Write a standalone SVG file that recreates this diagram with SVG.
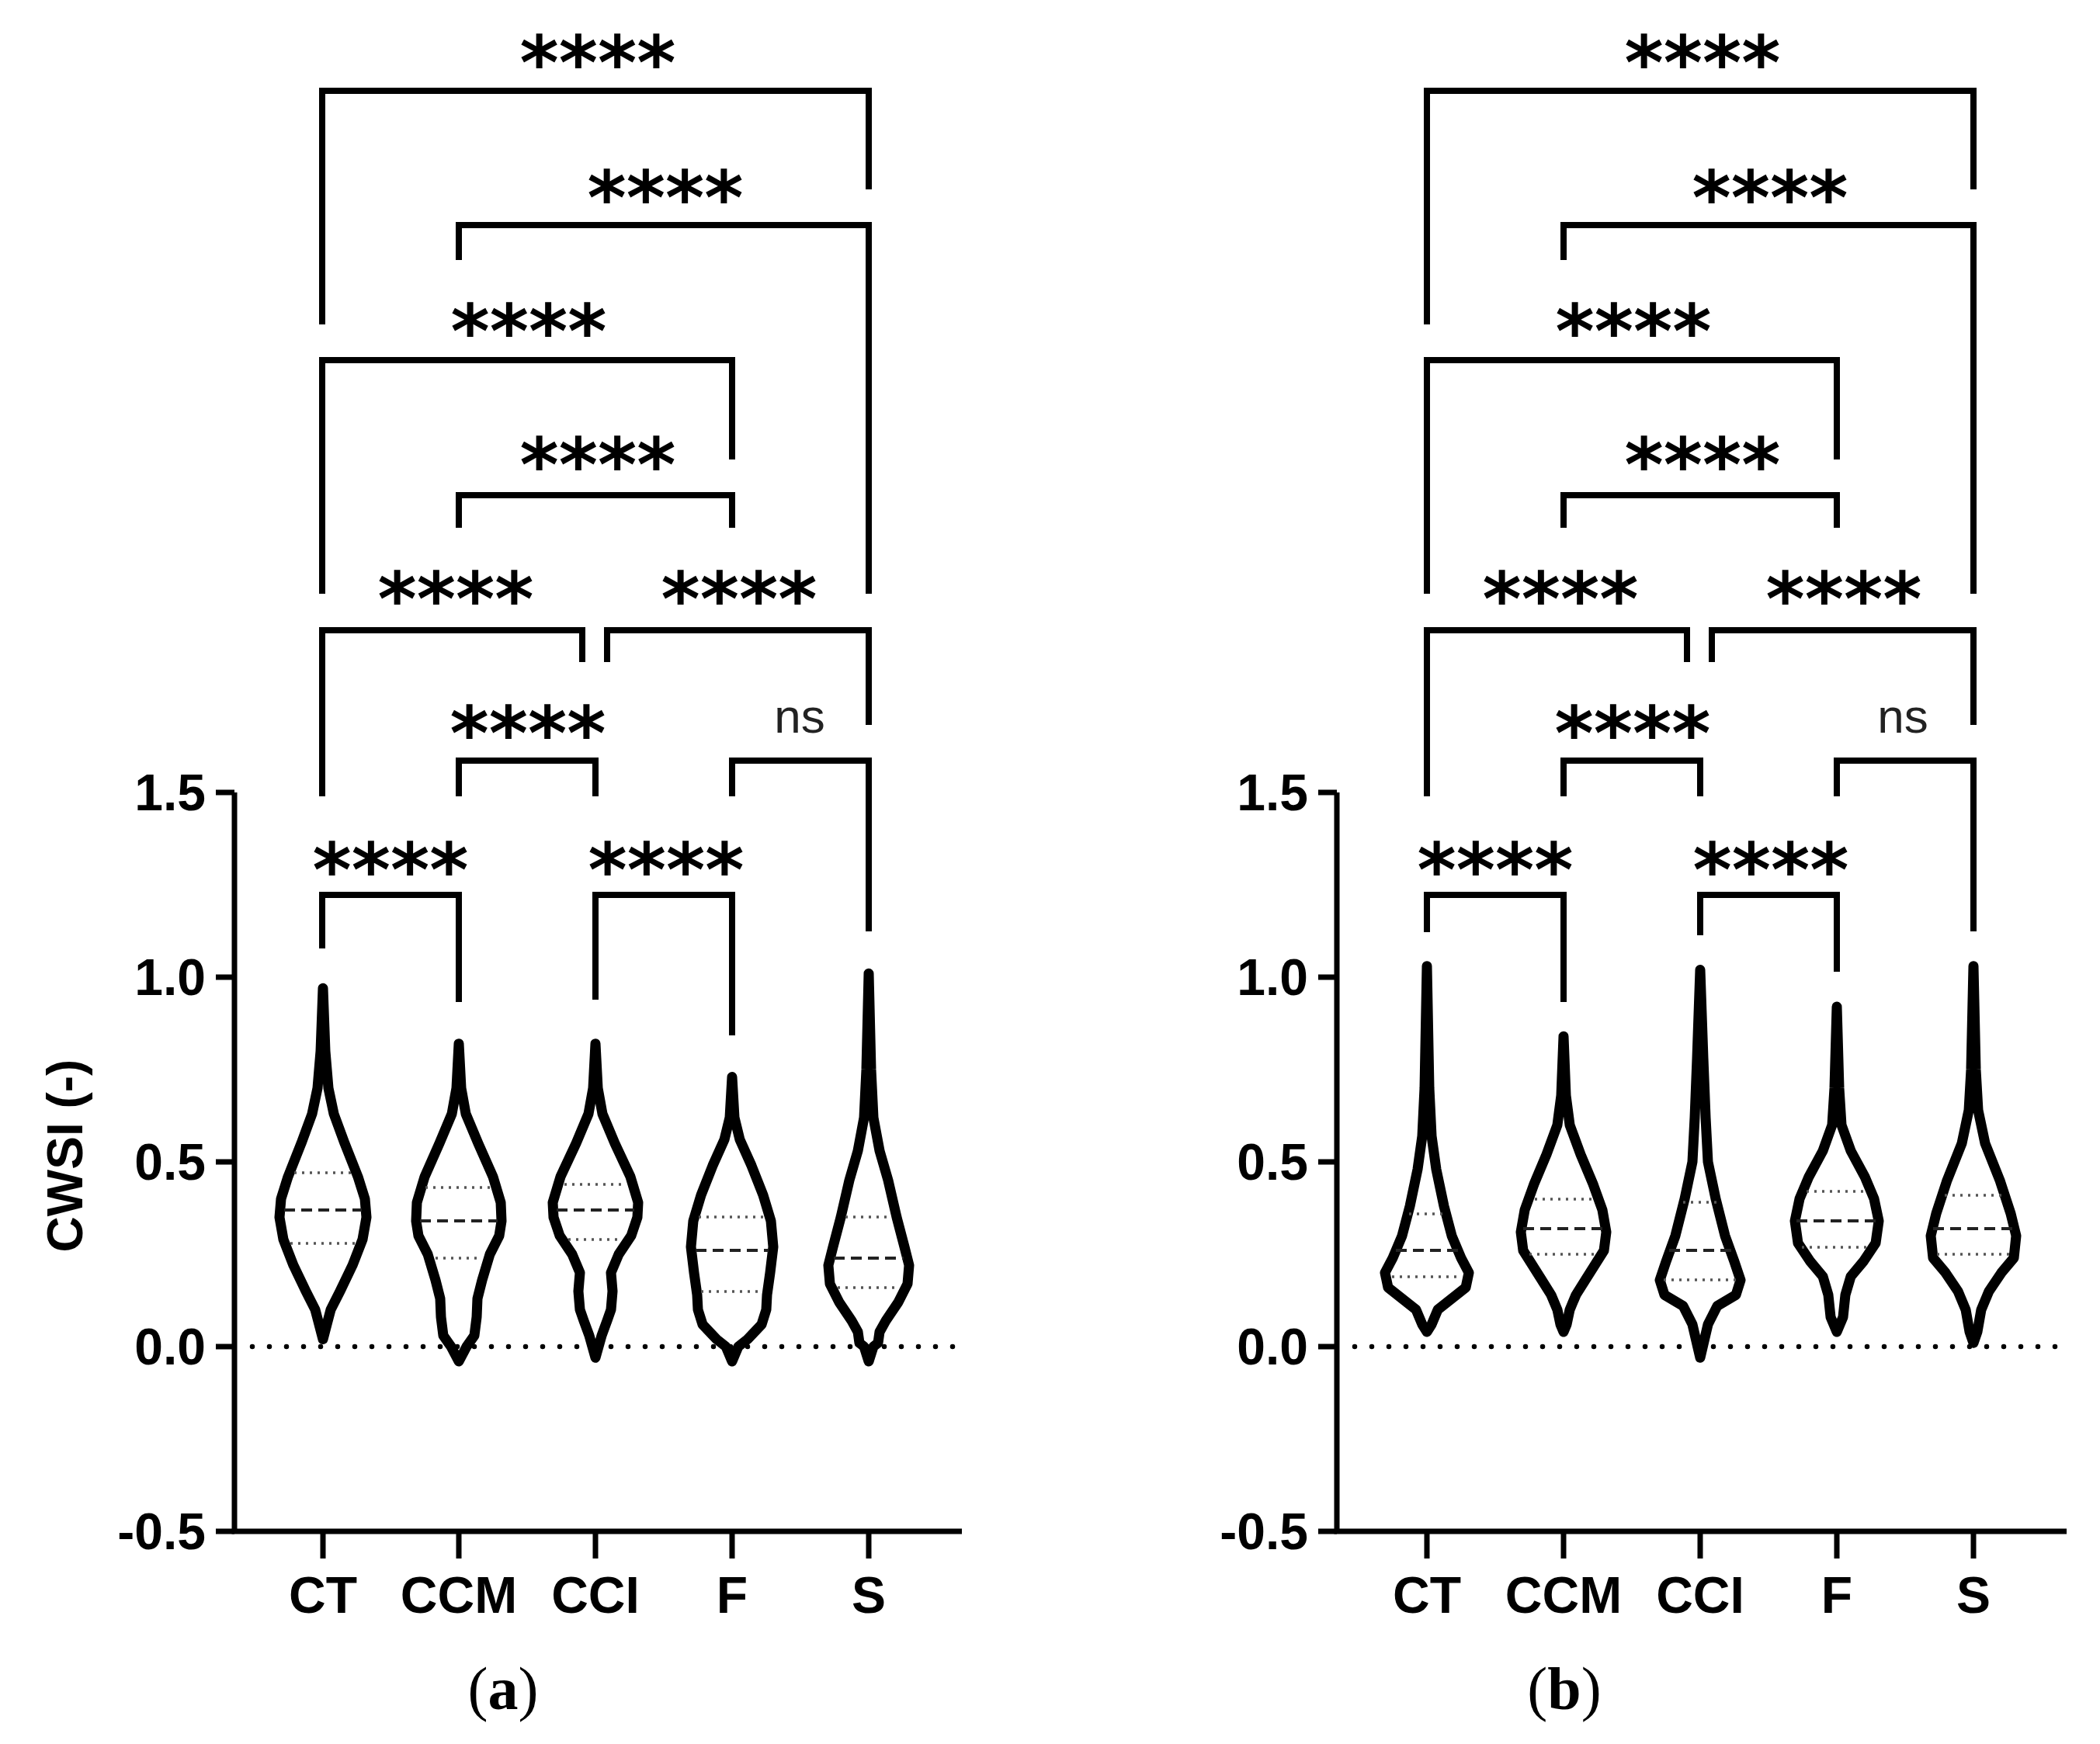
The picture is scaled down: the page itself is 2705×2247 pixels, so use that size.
<svg xmlns="http://www.w3.org/2000/svg" width="2705" height="2247" viewBox="0 0 2705 2247">
<style>
.br{fill:none;stroke:#000;stroke-width:8;stroke-linecap:butt;stroke-linejoin:miter}
.ax{fill:none;stroke:#000;stroke-width:7}
.vi{fill:none;stroke:#000;stroke-width:13;stroke-linejoin:round;vector-effect:non-scaling-stroke}
.med{stroke:#222;stroke-width:4;stroke-dasharray:14 8}
.q{stroke:#555;stroke-width:3.5;stroke-dasharray:3 7}
.zero{stroke:#000;stroke-width:6.5;stroke-linecap:round;stroke-dasharray:0 22}
.st{font-family:"DejaVu Sans",sans-serif;font-size:96px;font-weight:bold;text-anchor:middle}
.ns{font-family:"Liberation Sans",Arial,sans-serif;font-size:62px;text-anchor:middle;fill:#222}
.tk{font-family:"Liberation Sans",Arial,sans-serif;font-size:66px;font-weight:bold;text-anchor:end}
.cat{font-family:"Liberation Sans",Arial,sans-serif;font-size:66px;font-weight:bold;text-anchor:middle}
.cap{font-family:"Liberation Serif","Times New Roman",serif;font-size:78px;text-anchor:middle}
</style>
<rect width="2705" height="2247" fill="#fff"/>

<g id="axes-a">
<path class="ax" d="M302,1021 V1973 H1239"/>
<path class="ax" d="M278,1021 H302 M278,1259 H302 M278,1497 H302 M278,1735 H302 M278,1973 H302"/>
<path class="ax" d="M416,1973 V2008 M591,1973 V2008 M767,1973 V2008 M943,1973 V2008 M1119,1973 V2008"/>
<text class="tk" x="265" y="1044">1.5</text>
<text class="tk" x="265" y="1282">1.0</text>
<text class="tk" x="265" y="1520">0.5</text>
<text class="tk" x="265" y="1758">0.0</text>
<text class="tk" x="265" y="1996">-0.5</text>
<text class="cat" x="416" y="2078">CT</text>
<text class="cat" x="591" y="2078">CCM</text>
<text class="cat" x="767" y="2078">CCI</text>
<text class="cat" x="943" y="2078">F</text>
<text class="cat" x="1119" y="2078">S</text>
<text transform="translate(106,1489) rotate(-90)" font-family="Liberation Sans,Arial,sans-serif" font-size="64" font-weight="bold" text-anchor="middle">CWSI (-)</text>
<text class="cap" x="648" y="2202">(<tspan font-weight="bold">a</tspan>)</text>
<line class="zero" x1="325" y1="1735" x2="1240" y2="1735"/>
</g>

<g id="axes-b">
<path class="ax" d="M1722,1021 V1973 H2662"/>
<path class="ax" d="M1698,1021 H1722 M1698,1259 H1722 M1698,1497 H1722 M1698,1735 H1722 M1698,1973 H1722"/>
<path class="ax" d="M1838,1973 V2008 M2014,1973 V2008 M2190,1973 V2008 M2366,1973 V2008 M2542,1973 V2008"/>
<text class="tk" x="1685" y="1044">1.5</text>
<text class="tk" x="1685" y="1282">1.0</text>
<text class="tk" x="1685" y="1520">0.5</text>
<text class="tk" x="1685" y="1758">0.0</text>
<text class="tk" x="1685" y="1996">-0.5</text>
<text class="cat" x="1838" y="2078">CT</text>
<text class="cat" x="2014" y="2078">CCM</text>
<text class="cat" x="2190" y="2078">CCI</text>
<text class="cat" x="2366" y="2078">F</text>
<text class="cat" x="2542" y="2078">S</text>
<text class="cap" x="2015" y="2202">(<tspan font-weight="bold">b</tspan>)</text>
<line class="zero" x1="1745" y1="1735" x2="2662" y2="1735"/>
</g>

<g id="violins-a">
<g id="va-CT"><path class="vi" transform="translate(416,1735) scale(1,-476)" d="M0,0.97 L3,0.8 L7,0.7 L14,0.63 L28,0.55 L45,0.46 L54,0.4 L56,0.35 L51,0.29 L38,0.22 L22,0.15 L10,0.1 L5,0.06 L0,0.02 L-5,0.06 L-10,0.1 L-22,0.15 L-38,0.22 L-51,0.29 L-56,0.35 L-54,0.4 L-45,0.46 L-28,0.55 L-14,0.63 L-7,0.7 L-3,0.8 Z"/>
<line class="med" x1="366" y1="1559" x2="466" y2="1559"/><line class="q" x1="374" y1="1602" x2="458" y2="1602"/><line class="q" x1="379" y1="1511" x2="453" y2="1511"/></g>
<g id="va-CCM"><path class="vi" transform="translate(591,1735) scale(1,-476)" d="M0,0.82 L3,0.7 L9,0.63 L25,0.55 L44,0.46 L54,0.39 L55,0.34 L52,0.3 L40,0.25 L30,0.18 L24,0.13 L23,0.08 L20,0.03 L10,0 L0,-0.04 L-10,0 L-20,0.03 L-23,0.08 L-24,0.13 L-30,0.18 L-40,0.25 L-52,0.3 L-55,0.34 L-54,0.39 L-44,0.46 L-25,0.55 L-9,0.63 L-3,0.7 Z"/>
<line class="med" x1="541" y1="1573" x2="641" y2="1573"/><line class="q" x1="561" y1="1621" x2="621" y2="1621"/><line class="q" x1="548" y1="1530" x2="634" y2="1530"/></g>
<g id="va-CCI"><path class="vi" transform="translate(767,1735) scale(1,-476)" d="M0,0.82 L3,0.7 L9,0.63 L25,0.55 L45,0.46 L55,0.39 L54,0.35 L46,0.3 L30,0.25 L20,0.2 L22,0.15 L20,0.1 L15,0.07 L8,0.03 L0,-0.03 L-8,0.03 L-15,0.07 L-20,0.1 L-22,0.15 L-20,0.2 L-30,0.25 L-46,0.3 L-54,0.35 L-55,0.39 L-45,0.46 L-25,0.55 L-9,0.63 L-3,0.7 Z"/>
<line class="med" x1="717" y1="1559" x2="817" y2="1559"/><line class="q" x1="732" y1="1597" x2="802" y2="1597"/><line class="q" x1="727" y1="1526" x2="807" y2="1526"/></g>
<g id="va-F"><path class="vi" transform="translate(943,1735) scale(1,-476)" d="M0,0.73 L3,0.62 L10,0.56 L25,0.49 L40,0.41 L50,0.34 L53,0.27 L49,0.2 L45,0.14 L44,0.1 L38,0.06 L20,0.02 L8,0 L0,-0.04 L-8,0 L-20,0.02 L-38,0.06 L-44,0.1 L-45,0.14 L-49,0.2 L-53,0.27 L-50,0.34 L-40,0.41 L-25,0.49 L-10,0.56 L-3,0.62 Z"/>
<line class="med" x1="896" y1="1611" x2="990" y2="1611"/><line class="q" x1="903" y1="1664" x2="983" y2="1664"/><line class="q" x1="900" y1="1568" x2="986" y2="1568"/></g>
<g id="va-S"><path class="vi" transform="translate(1119,1735) scale(1,-476)" d="M0,1.01 L3,0.75 L6,0.62 L14,0.53 L25,0.45 L36,0.35 L46,0.27 L52,0.22 L50,0.17 L38,0.12 L22,0.07 L14,0.04 L12,0.01 L6,0 L0,-0.04 L-6,0 L-12,0.01 L-14,0.04 L-22,0.07 L-38,0.12 L-50,0.17 L-52,0.22 L-46,0.27 L-36,0.35 L-25,0.45 L-14,0.53 L-6,0.62 L-3,0.75 Z"/>
<line class="med" x1="1074" y1="1621" x2="1164" y2="1621"/><line class="q" x1="1079" y1="1659" x2="1159" y2="1659"/><line class="q" x1="1089" y1="1568" x2="1149" y2="1568"/></g>
</g>

<g id="violins-b">
<g id="vb-CT"><path class="vi" transform="translate(1838,1735) scale(1,-476)" d="M0,1.03 L3,0.7 L6,0.57 L12,0.48 L22,0.38 L32,0.3 L44,0.24 L54,0.2 L50,0.16 L32,0.13 L14,0.1 L6,0.06 L0,0.04 L-6,0.06 L-14,0.1 L-32,0.13 L-50,0.16 L-54,0.2 L-44,0.24 L-32,0.3 L-22,0.38 L-12,0.48 L-6,0.57 L-3,0.7 Z"/>
<line class="med" x1="1798" y1="1611" x2="1878" y2="1611"/><line class="q" x1="1793" y1="1645" x2="1883" y2="1645"/><line class="q" x1="1815" y1="1564" x2="1861" y2="1564"/></g>
<g id="vb-CCM"><path class="vi" transform="translate(2014,1735) scale(1,-476)" d="M0,0.84 L3,0.68 L8,0.6 L22,0.52 L38,0.44 L50,0.37 L55,0.31 L52,0.26 L40,0.22 L28,0.18 L16,0.14 L8,0.1 L4,0.06 L0,0.04 L-4,0.06 L-8,0.1 L-16,0.14 L-28,0.18 L-40,0.22 L-52,0.26 L-55,0.31 L-50,0.37 L-38,0.44 L-22,0.52 L-8,0.6 L-3,0.68 Z"/>
<line class="med" x1="1962" y1="1583" x2="2066" y2="1583"/><line class="q" x1="1970" y1="1616" x2="2058" y2="1616"/><line class="q" x1="1977" y1="1545" x2="2051" y2="1545"/></g>
<g id="vb-CCI"><path class="vi" transform="translate(2190,1735) scale(1,-476)" d="M0,1.02 L4,0.78 L7,0.62 L10,0.5 L20,0.4 L32,0.3 L44,0.23 L52,0.18 L46,0.14 L22,0.11 L10,0.06 L0,-0.03 L-10,0.06 L-22,0.11 L-46,0.14 L-52,0.18 L-44,0.23 L-32,0.3 L-20,0.4 L-10,0.5 L-7,0.62 L-4,0.78 Z"/>
<line class="med" x1="2150" y1="1611" x2="2230" y2="1611"/><line class="q" x1="2143" y1="1649" x2="2237" y2="1649"/><line class="q" x1="2168" y1="1549" x2="2212" y2="1549"/></g>
<g id="vb-F"><path class="vi" transform="translate(2366,1735) scale(1,-476)" d="M0,0.92 L3,0.7 L6,0.6 L18,0.53 L36,0.46 L48,0.4 L54,0.34 L50,0.28 L34,0.23 L18,0.19 L11,0.14 L8,0.08 L0,0.04 L-8,0.08 L-11,0.14 L-18,0.19 L-34,0.23 L-50,0.28 L-54,0.34 L-48,0.4 L-36,0.46 L-18,0.53 L-6,0.6 L-3,0.7 Z"/>
<line class="med" x1="2314" y1="1573" x2="2418" y2="1573"/><line class="q" x1="2321" y1="1607" x2="2411" y2="1607"/><line class="q" x1="2327" y1="1535" x2="2405" y2="1535"/></g>
<g id="vb-S"><path class="vi" transform="translate(2542,1735) scale(1,-476)" d="M0,1.03 L3,0.75 L6,0.64 L15,0.55 L34,0.45 L48,0.36 L55,0.3 L52,0.24 L36,0.2 L20,0.15 L10,0.1 L5,0.04 L0,0.01 L-5,0.04 L-10,0.1 L-20,0.15 L-36,0.2 L-52,0.24 L-55,0.3 L-48,0.36 L-34,0.45 L-15,0.55 L-6,0.64 L-3,0.75 Z"/>
<line class="med" x1="2490" y1="1583" x2="2594" y2="1583"/><line class="q" x1="2495" y1="1616" x2="2589" y2="1616"/><line class="q" x1="2505" y1="1540" x2="2579" y2="1540"/></g>
</g>

<g id="connectors">
<path class="br" d="M415,418 V117 H1119 V244"/>
<path class="br" d="M591,335 V290 H1119 V765"/>
<path class="br" d="M415,765 V464 H943 V592"/>
<path class="br" d="M591,680 V638 H943 V680"/>
<path class="br" d="M415,1026 V812 H750 V853"/>
<path class="br" d="M782,853 V812 H1119 V934"/>
<path class="br" d="M591,1026 V980 H767 V1026"/>
<path class="br" d="M943,1026 V980 H1119 V1200"/>
<path class="br" d="M415,1222 V1153 H591 V1291"/>
<path class="br" d="M767,1288 V1153 H943 V1334"/>

<path class="br" d="M1838,418 V117 H2542 V244"/>
<path class="br" d="M2014,335 V290 H2542 V765"/>
<path class="br" d="M1838,765 V464 H2366 V592"/>
<path class="br" d="M2014,680 V638 H2366 V680"/>
<path class="br" d="M1838,1026 V812 H2173 V853"/>
<path class="br" d="M2205,853 V812 H2542 V934"/>
<path class="br" d="M2014,1026 V980 H2190 V1026"/>
<path class="br" d="M2366,1026 V980 H2542 V1200"/>
<path class="br" d="M1838,1201 V1153 H2014 V1291"/>
<path class="br" d="M2190,1205 V1153 H2366 V1252"/>
</g>

<g id="labels-a">
<text class="st" x="770" y="115">****</text>
<text class="st" x="857" y="289">****</text>
<text class="st" x="681" y="461">****</text>
<text class="st" x="770" y="633">****</text>
<text class="st" x="587" y="806">****</text>
<text class="st" x="952" y="806">****</text>
<text class="st" x="680" y="979">****</text>
<text class="ns" x="1030" y="944">ns</text>
<text class="st" x="503" y="1155">****</text>
<text class="st" x="858" y="1155">****</text>
</g>
<g id="labels-b">
<text class="st" x="2193" y="115">****</text>
<text class="st" x="2280" y="289">****</text>
<text class="st" x="2104" y="461">****</text>
<text class="st" x="2193" y="633">****</text>
<text class="st" x="2010" y="806">****</text>
<text class="st" x="2375" y="806">****</text>
<text class="st" x="2103" y="979">****</text>
<text class="ns" x="2451" y="944">ns</text>
<text class="st" x="1926" y="1155">****</text>
<text class="st" x="2281" y="1155">****</text>
</g>
</svg>
